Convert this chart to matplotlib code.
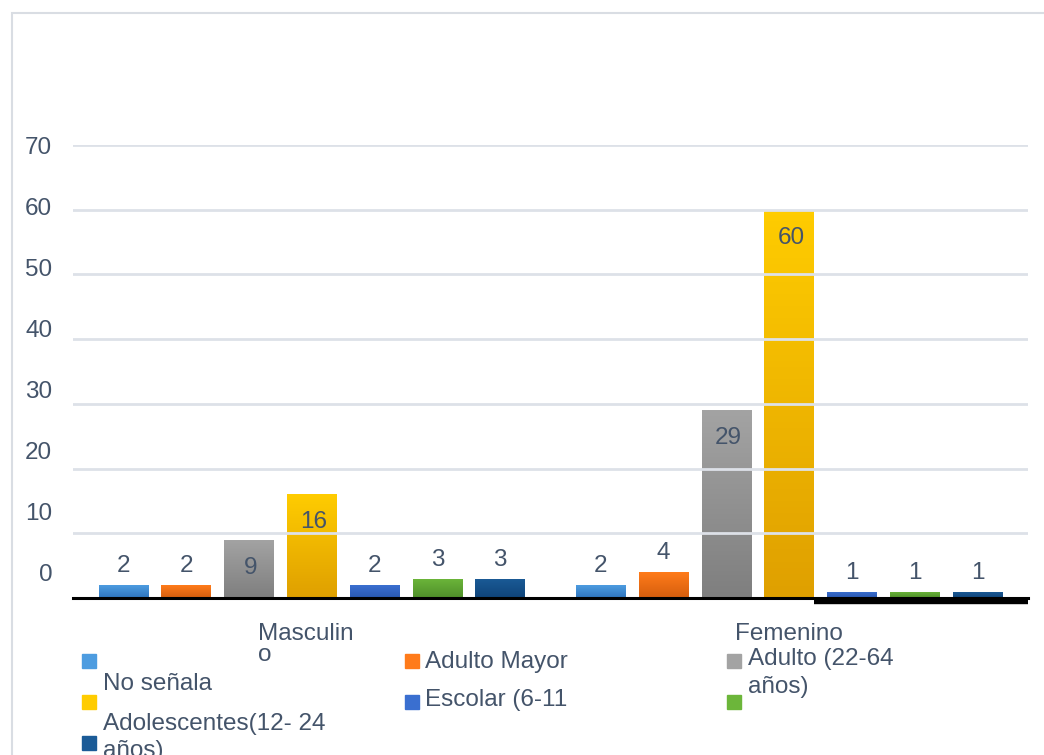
import numpy as np
import matplotlib
matplotlib.use("Agg")
import matplotlib.pyplot as plt
import matplotlib.transforms as mtransforms
from matplotlib.patches import Rectangle
from matplotlib.colors import LinearSegmentedColormap

plt.rcParams['font.family'] = ['Liberation Sans', 'DejaVu Sans']

# data
groups = ["Masculin\no", "Femenino"]
masculino = [2, 2, 9, 16, 2, 3, 3]
femenino = [2, 4, 29, 60, 1, 1, 1]
yticks = [0, 10, 20, 30, 40, 50, 60, 70]

# bar colours, gradient top -> bottom
grad = [('#4d9ce0', '#2e74bd'),
        ('#ff7b1a', '#d55e0e'),
        ('#a3a3a3', '#7f7f7f'),
        ('#ffcc00', '#dfa000'),
        ('#3a6fd0', '#2a58b0'),
        ('#6cb63a', '#4f8f2a'),
        ('#1b5b97', '#0f4479')]

text_col = '#44546a'
grid_col = '#dde1e8'
fs = 17.5
W, H = 1044, 755

fig = plt.figure(figsize=(W / 100, H / 100), dpi=100)
ax = fig.add_axes([73 / W, 1 - 598 / H, (1028 - 73) / W, (598 - 145) / H])

# chart frame
fig.add_artist(Rectangle((12 / W, -0.05), 1.1, 1 - 13 / H + 0.05,
                         transform=fig.transFigure, fill=False,
                         edgecolor='#d9dde3', lw=1.5))

step = 0.1315
width = 0.104
x = np.arange(len(groups))
vals = np.array([masculino, femenino])
n = vals.shape[1]

for i in range(n):
    xs = x + (i - (n - 1) / 2) * step
    bars = ax.bar(xs, vals[:, i], width, color=grad[i][0], zorder=2)
    cmap = LinearSegmentedColormap.from_list('g%d' % i, [grad[i][1], grad[i][0]])
    for b, v in zip(bars, vals[:, i]):
        x0 = b.get_x()
        im = ax.imshow(np.linspace(0, 1, 64).reshape(-1, 1), cmap=cmap,
                       origin='lower', aspect='auto',
                       extent=[x0, x0 + width, 0, v], zorder=2.1)
        im.set_clip_path(b)
        if v >= 5:
            ax.annotate(str(v), (x0 + width / 2, v), xytext=(2, -28),
                        textcoords='offset pixels', ha='center', va='center',
                        fontsize=fs, color=text_col, zorder=6)
        else:
            ax.annotate(str(v), (x0 + width / 2, v), xytext=(0, 19),
                        textcoords='offset pixels', ha='center', va='center',
                        fontsize=fs, color=text_col, zorder=6)

ax.set_xlim(-0.5, 1.5)
ax.set_ylim(0, 70)

# gridlines drawn over the bars
for t in yticks:
    ax.axhline(t, color=grid_col, lw=2.0, zorder=4)
ax.axhline(0, color='black', lw=2.2, zorder=5, clip_on=False)
# heavy segment at the right end of the baseline
x_thick = x[1] + (3 - (n - 1) / 2) * step + width / 2
ax.plot([x_thick, 1.5], [-0.45, -0.45], color='black', lw=4.6,
        solid_capstyle='butt', zorder=5, clip_on=False)

for s in ax.spines.values():
    s.set_visible(False)

ax.set_yticks(yticks)
ax.set_yticklabels([str(t) for t in yticks])
ax.tick_params(axis='y', length=0, pad=15, labelsize=fs, labelcolor=text_col)
for t, lab in zip(yticks, ax.get_yticklabels()):
    off = (70 - t) * 0.36 / 100
    lab.set_transform(lab.get_transform() +
                      mtransforms.ScaledTranslation(0, off, fig.dpi_scale_trans))

ax.set_xticks(x)
ax.set_xticklabels(groups, multialignment='left', linespacing=0.95)
ax.tick_params(axis='x', length=0, pad=18, labelsize=fs, labelcolor=text_col)
xl = ax.get_xticklabels()
xl[0].set_transform(xl[0].get_transform() +
                    mtransforms.ScaledTranslation(-0.06, 0, fig.dpi_scale_trans))

# legend (laid out as in the source picture)
leg_boxes = [(82, 654, 0), (405, 654, 1), (727, 654, 2),
             (82, 695, 3), (405, 695, 4), (727, 695, 5),
             (82, 736, 6)]
for px, py, k in leg_boxes:
    fig.add_artist(Rectangle((px / W, 1 - (py + 14) / H), 14 / W, 14 / H,
                             transform=fig.transFigure, color=grad[k][0]))

leg_texts = [("No señala", 103, 684),
             ("Adolescentes(12- 24", 103, 724),
             ("años)", 103, 751),
             ("Adulto Mayor", 425, 662),
             ("Escolar (6-11", 425, 700),
             ("Adulto (22-64", 748, 659),
             ("años)", 748, 687)]
for s, px, py in leg_texts:
    fig.text(px / W, 1 - py / H, s, ha='left', va='center',
             fontsize=fs, color=text_col)

fig.savefig('out.png', dpi=100)
